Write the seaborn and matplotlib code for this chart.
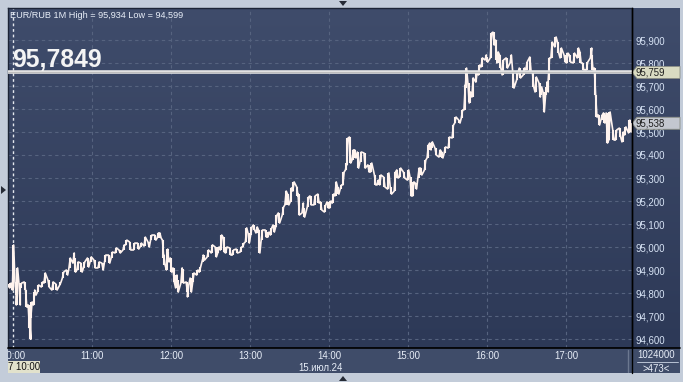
import numpy as np
import pandas as pd
import matplotlib
matplotlib.use("Agg")
import matplotlib.pyplot as plt
import matplotlib.transforms as mtransforms
from matplotlib.patches import Polygon, Rectangle
from matplotlib.lines import Line2D
from matplotlib.colors import LinearSegmentedColormap
import seaborn as sns

# ---------------- data (1-minute EUR/RUB) ----------------
times = ["09:56", "09:58", "10:00", "10:02", "10:03", "10:05", "10:06", "10:09", "10:10", "10:12",
         "10:13", "10:14", "10:16", "10:17", "10:19", "10:22", "10:24", "10:27", "10:30", "10:33",
         "10:36", "10:38", "10:41", "10:43", "10:46", "10:47", "10:49", "10:52", "10:54", "10:57",
         "10:59", "11:02", "11:05", "11:08", "11:10", "11:13", "11:15", "11:18", "11:21", "11:24",
         "11:26", "11:29", "11:32", "11:35", "11:37", "11:40", "11:43", "11:45", "11:48", "11:50",
         "11:52", "11:54", "11:55", "11:57", "11:58", "12:00", "12:02", "12:04", "12:05", "12:08",
         "12:09", "12:12", "12:13", "12:15", "12:17", "12:20", "12:22", "12:24", "12:25", "12:28",
         "12:31", "12:34", "12:36", "12:38", "12:40", "12:42", "12:45", "12:47", "12:50", "12:53",
         "12:55", "12:57", "12:59", "13:01", "13:03", "13:05", "13:07", "13:09", "13:12", "13:14",
         "13:16", "13:18", "13:20", "13:22", "13:25", "13:27", "13:29", "13:31", "13:33", "13:36",
         "13:37", "13:40", "13:41", "13:44", "13:46", "13:49", "13:52", "13:54", "13:57", "13:59",
         "14:01", "14:03", "14:05", "14:07", "14:09", "14:11", "14:13", "14:14", "14:16", "14:18",
         "14:20", "14:22", "14:24", "14:27", "14:30", "14:32", "14:35", "14:37", "14:39", "14:42",
         "14:45", "14:47", "14:50", "14:52", "14:54", "14:57", "15:00", "15:02", "15:04", "15:06",
         "15:08", "15:10", "15:13", "15:15", "15:17", "15:18", "15:21", "15:24", "15:26", "15:28",
         "15:31", "15:34", "15:36", "15:39", "15:41", "15:43", "15:44", "15:46", "15:47", "15:49",
         "15:52", "15:54", "15:56", "15:59", "16:00", "16:03", "16:05", "16:07", "16:08", "16:10",
         "16:12", "16:15", "16:18", "16:20", "16:23", "16:25", "16:28", "16:30", "16:33", "16:35",
         "16:37", "16:40", "16:41", "16:43", "16:45", "16:46", "16:47", "16:49", "16:52", "16:54",
         "16:56", "16:59", "17:01", "17:03", "17:06", "17:09", "17:11", "17:13", "17:16", "17:19",
         "17:20", "17:22", "17:23", "17:25", "17:27", "17:29", "17:31", "17:33", "17:36", "17:38",
         "17:41", "17:43", "17:45", "17:48", "17:49"]

highs = [94.840, 94.843, 95.009, 94.848, 94.909, 94.843, 94.843, 94.848, 94.813, 94.748,
         94.691, 94.761, 94.804, 94.813, 94.835, 94.848, 94.887, 94.857, 94.848, 94.839,
         94.848, 94.891, 94.900, 94.952, 94.974, 94.952, 94.935, 94.930, 94.935, 94.952,
         94.957, 94.943, 94.935, 94.930, 94.965, 94.965, 94.978, 94.996, 94.987, 95.009,
         95.030, 95.022, 95.017, 95.017, 95.017, 95.043, 95.022, 95.052, 95.052, 95.061,
         95.061, 95.030, 94.965, 94.991, 94.978, 94.952, 94.909, 94.878, 94.857, 94.909,
         94.904, 94.848, 94.835, 94.865, 94.887, 94.900, 94.913, 94.957, 94.965, 94.987,
         95.009, 95.000, 95.000, 95.052, 95.043, 95.000, 94.996, 94.987, 94.991, 95.000,
         95.017, 95.083, 95.061, 95.087, 95.096, 95.087, 95.074, 95.074, 95.074, 95.065,
         95.083, 95.096, 95.139, 95.148, 95.174, 95.243, 95.230, 95.257, 95.283, 95.261,
         95.230, 95.191, 95.170, 95.217, 95.222, 95.222, 95.230, 95.196, 95.183, 95.196,
         95.200, 95.230, 95.283, 95.261, 95.270, 95.326, 95.365, 95.474, 95.478, 95.422,
         95.422, 95.413, 95.413, 95.409, 95.357, 95.365, 95.313, 95.291, 95.313, 95.304,
         95.322, 95.261, 95.326, 95.335, 95.343, 95.326, 95.335, 95.304, 95.283, 95.278,
         95.343, 95.343, 95.378, 95.443, 95.452, 95.457, 95.430, 95.422, 95.413, 95.435,
         95.478, 95.530, 95.565, 95.552, 95.596, 95.704, 95.778, 95.713, 95.674, 95.735,
         95.757, 95.791, 95.822, 95.835, 95.826, 95.930, 95.934, 95.900, 95.848, 95.835,
         95.813, 95.822, 95.835, 95.761, 95.757, 95.778, 95.778, 95.804, 95.826, 95.761,
         95.739, 95.713, 95.696, 95.674, 95.696, 95.717, 95.822, 95.891, 95.913, 95.891,
         95.865, 95.835, 95.843, 95.835, 95.843, 95.865, 95.848, 95.800, 95.804, 95.865,
         95.835, 95.778, 95.661, 95.574, 95.574, 95.583, 95.583, 95.587, 95.509, 95.509,
         95.517, 95.500, 95.522, 95.552, 95.539]

lows = [94.830, 94.822, 94.813, 94.791, 94.748, 94.748, 94.822, 94.813, 94.739, 94.648,
        94.599, 94.691, 94.748, 94.791, 94.804, 94.826, 94.843, 94.826, 94.813, 94.813,
        94.835, 94.865, 94.878, 94.909, 94.930, 94.891, 94.900, 94.891, 94.909, 94.913,
        94.935, 94.909, 94.909, 94.900, 94.935, 94.930, 94.952, 94.974, 94.974, 94.987,
        95.009, 94.987, 94.987, 94.991, 95.000, 95.004, 95.000, 95.030, 95.030, 95.039,
        95.039, 94.952, 94.922, 94.900, 94.935, 94.891, 94.848, 94.822, 94.804, 94.843,
        94.843, 94.804, 94.783, 94.804, 94.848, 94.878, 94.891, 94.935, 94.943, 94.957,
        94.974, 94.957, 94.974, 94.987, 94.978, 94.974, 94.965, 94.965, 94.974, 94.978,
        95.000, 95.022, 95.017, 95.052, 95.074, 95.061, 94.974, 95.030, 95.043, 95.043,
        95.052, 95.065, 95.087, 95.104, 95.139, 95.183, 95.183, 95.196, 95.243, 95.222,
        95.139, 95.148, 95.130, 95.174, 95.183, 95.183, 95.191, 95.161, 95.152, 95.170,
        95.170, 95.191, 95.222, 95.230, 95.252, 95.270, 95.335, 95.357, 95.365, 95.378,
        95.387, 95.343, 95.370, 95.343, 95.326, 95.326, 95.270, 95.270, 95.270, 95.261,
        95.252, 95.230, 95.243, 95.300, 95.304, 95.300, 95.291, 95.222, 95.222, 95.252,
        95.300, 95.313, 95.335, 95.387, 95.422, 95.430, 95.400, 95.391, 95.387, 95.409,
        95.430, 95.474, 95.539, 95.539, 95.561, 95.596, 95.691, 95.630, 95.626, 95.652,
        95.717, 95.748, 95.783, 95.813, 95.804, 95.822, 95.878, 95.813, 95.800, 95.778,
        95.748, 95.778, 95.800, 95.691, 95.726, 95.735, 95.748, 95.770, 95.761, 95.696,
        95.674, 95.652, 95.661, 95.587, 95.661, 95.674, 95.726, 95.822, 95.870, 95.843,
        95.822, 95.804, 95.800, 95.804, 95.800, 95.822, 95.800, 95.770, 95.770, 95.822,
        95.770, 95.661, 95.565, 95.530, 95.552, 95.539, 95.452, 95.465, 95.465, 95.465,
        95.478, 95.457, 95.487, 95.496, 95.500]

y_ticks = [94.6, 94.7, 94.8, 94.9, 95.0, 95.1, 95.2, 95.3, 95.4, 95.5, 95.6, 95.7, 95.8, 95.9]
hour_labels = ["10:00", "11:00", "12:00", "13:00", "14:00", "15:00", "16:00", "17:00"]
title_text = "EUR/RUB 1M High = 95,934 Low = 94,599"
big_value = "95,7849"
ref_level = 95.759
ref_label = "95,759"
last_price = 95.538
last_label = "95,538"
date_label = "15.июл.24"
cursor_label = "7 10:00"
volume_label = "1024000"
count_label = ">473<"

# ---------------- layout helpers (pixel geometry) ----------------
W, H = 683, 382
def fx(px):
    return px / W
def fy(py):
    return 1 - py / H

PX_PER_MIN = 79 / 60.0
PX_PER_UNIT = 230.0
X0_PX = 13          # pixel of 10:00
Y_ANCHOR_PX = 40    # pixel of 95.900
FS = 6.9

sns.set_theme(style="dark")
plt.rcParams['font.family'] = ['Liberation Sans', 'DejaVu Sans']

fig = plt.figure(figsize=(6.83, 3.82), dpi=100, facecolor='#c3ccd9')

# gradient background (plot + price panel)
bg = fig.add_axes([fx(8), fy(348), fx(680) - fx(8), (348 - 8) / H])
grad = np.linspace(0, 1, 256).reshape(-1, 1)
cmap = LinearSegmentedColormap.from_list('bg', ['#3f4c6b', '#2d3957'])
bg.imshow(grad, aspect='auto', cmap=cmap, extent=[0, 1, 0, 1])
bg.set_xlim(0, 1)
bg.set_ylim(0, 1)
bg.set_axis_off()

# main axes
ax = fig.add_axes([fx(8), fy(348), fx(632) - fx(8), (348 - 8) / H])
ax.set_facecolor('none')

base = pd.Timestamp("1900-01-01 10:00")
mins = (pd.to_datetime(times, format="%H:%M") - base).total_seconds() / 60.0
hour_pos = (pd.to_datetime(hour_labels, format="%H:%M") - base).total_seconds() / 60.0

xlim = ((8 - X0_PX) / PX_PER_MIN, (632 - X0_PX) / PX_PER_MIN)
anchor = y_ticks[-1]
ylim = (anchor - (348 - Y_ANCHOR_PX) / PX_PER_UNIT, anchor + (Y_ANCHOR_PX - 8) / PX_PER_UNIT)

grid_kw = dict(color='#56637f', lw=0.8, ls=(0, (3, 3)), zorder=1)
for v in y_ticks:
    ax.axhline(v, **grid_kw)
for p in hour_pos[1:]:
    ax.axvline(p, **grid_kw)
ax.axvline(hour_pos[0], color='#e4e8ee', lw=1.0, ls=(0, (2, 2)), zorder=2)

# zig-zag path through each bar's range
px, py = [], []
prev = None
for tm, h, l in zip(mins, highs, lows):
    if prev is None or abs(h - prev) <= abs(l - prev):
        a, b = h, l
    else:
        a, b = l, h
    px += [tm - 0.5, tm + 0.5]
    py += [a, b]
    prev = b
path = pd.DataFrame({'t': px, 'p': py})
sns.lineplot(data=path, x='t', y='p', sort=False, estimator=None,
             color='#fff3ee', lw=1.2, ax=ax, zorder=5)
ax.vlines(mins, lows, highs, color='#fff3ee', lw=1.5, zorder=5)

ax.axhline(ref_level, color='#e2e2e2', lw=2.6, zorder=6)
ax.axhline(ref_level, color='#b8b8b8', lw=0.6, zorder=6)

ax.set_xlim(*xlim)
ax.set_ylim(*ylim)
ax.set_xlabel('')
ax.set_ylabel('')
ax.set_xticks([])
ax.set_yticks(y_ticks)
ax.set_yticklabels([f"{v:.3f}".replace('.', ',') for v in y_ticks])
ax.yaxis.tick_right()
ax.tick_params(axis='y', length=0, pad=2.5, labelsize=FS, labelcolor='#d8e4f6')
ax.grid(False)
for side in ['left', 'top']:
    ax.spines[side].set_color('#1c2435')
    ax.spines[side].set_linewidth(1.0)
for side in ['right', 'bottom']:
    ax.spines[side].set_color('#000000')
    ax.spines[side].set_linewidth(1.0)

# price boxes on right panel
trans = mtransforms.blended_transform_factory(fig.transFigure, ax.transData)
hh = 6 / PX_PER_UNIT
for val, lab, fc in [(ref_level, ref_label, '#d9dbc2'), (last_price, last_label, '#c3c7cf')]:
    poly = Polygon([[fx(632), val], [fx(637), val + hh], [fx(680), val + hh],
                    [fx(680), val - hh], [fx(637), val - hh]], closed=True,
                   transform=trans, fc=fc, ec='#8c8f86', lw=0.6, zorder=9, clip_on=False)
    ax.add_patch(poly)
    ax.text(fx(636), val, lab, transform=trans, fontsize=FS, color='#1e1e1e',
            ha='left', va='center', zorder=10, clip_on=False)

# titles
fig.text(fx(10), fy(18), title_text, fontsize=6.6, color='#e8eef8', va='baseline')
fig.text(fx(12), fy(67), big_value, fontsize=17.8, fontweight='bold', color='#f4f4f4', va='baseline')

# bottom time strip
axb = fig.add_axes([fx(8), fy(373), fx(632) - fx(8), 25 / H])
axb.set_facecolor('#3f4c69')
axb.set_xlim(*xlim)
axb.set_ylim(25, 0)
axb.set_xticks([])
axb.set_yticks([])
for s in axb.spines.values():
    s.set_visible(False)
for p, lab in zip(hour_pos, hour_labels):
    axb.text(p, 8, lab, ha='center', va='center', fontsize=FS, color='#e8eef8', clip_on=True)
axb.text((343 - X0_PX) / PX_PER_MIN, 20, date_label, ha='right', va='center',
         fontsize=FS, color='#e8eef8')
tb = mtransforms.blended_transform_factory(axb.transAxes, axb.transData)
axb.add_patch(Rectangle((0, 13), 32 / 624, 12, transform=tb, fc='#e2e2cc', ec='none', zorder=3))
axb.text(0.5 / 624, 19.3, cursor_label, transform=tb, ha='left', va='center',
         fontsize=FS, color='#111111', zorder=4)
axb.plot([620 / 624, 620 / 624], [2, 24], transform=tb, color='#6c7890', lw=1)

# bottom-right box
axbr = fig.add_axes([fx(632), fy(373), fx(680) - fx(632), 25 / H])
axbr.set_facecolor('#3f4c69')
axbr.set_xticks([])
axbr.set_yticks([])
for s in axbr.spines.values():
    s.set_visible(False)
axbr.text(0.5, 0.74, volume_label, transform=axbr.transAxes, ha='center', va='center',
          fontsize=FS, color='#e8eef8')
axbr.text(0.5, 0.18, count_label, transform=axbr.transAxes, ha='center', va='center',
          fontsize=FS, color='#e8eef8')
axbr.plot([5 / 48, 46 / 48], [0.44, 0.44], transform=axbr.transAxes, color='#b8c2d4', lw=0.7)

# frame lines
fig.add_artist(Line2D([fx(632), fx(632)], [fy(8), fy(373)], color='black', lw=1.0))
fig.add_artist(Line2D([fx(8), fx(680)], [fy(348), fy(348)], color='black', lw=1.2))

# small navigation triangles
tri_kw = dict(closed=True, fc='#262b36', ec='none', transform=fig.transFigure)
fig.add_artist(Polygon([[fx(339), fy(1)], [fx(347), fy(1)], [fx(343), fy(6)]], **tri_kw))
fig.add_artist(Polygon([[fx(1), fy(186)], [fx(1), fy(194)], [fx(6), fy(190)]], **tri_kw))
fig.add_artist(Polygon([[fx(339), fy(381)], [fx(347), fy(381)], [fx(343), fy(376)]], **tri_kw))

fig.savefig('out.png', dpi=100, facecolor=fig.get_facecolor())
